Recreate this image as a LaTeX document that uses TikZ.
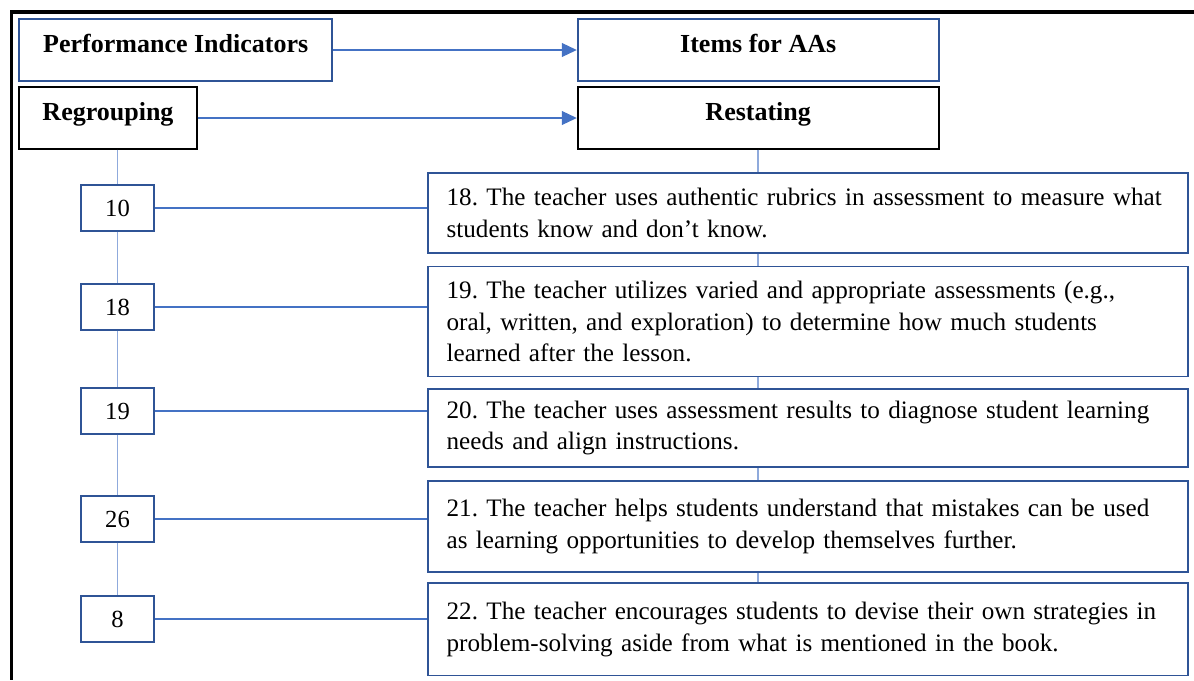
\documentclass[tikz,border=0pt]{standalone}
\usepackage{fontspec}
\setmainfont{Liberation Serif}
\usetikzlibrary{arrows.meta,calc}
\definecolor{boxblue}{RGB}{47,84,150}
\definecolor{linkblue}{RGB}{68,114,196}
\definecolor{trunkblue}{RGB}{143,170,220}
\frenchspacing

\begin{document}
\begin{tikzpicture}
[x=0.02cm,y=-0.02cm,>={Triangle[length=0.3cm,width=0.28cm]},
hdrbox/.style = {draw, line width=1.1pt, fill=white, minimum height=1.228cm, font=\fontsize{14.8}{17}\selectfont\bfseries, text height=0.7em, text depth=0.44em},
numbox/.style = {draw=boxblue, line width=1.1pt, fill=white, minimum width=1.46cm, minimum height=0.91cm, font=\fontsize{14}{17}\selectfont},
itembox/.style = {draw=boxblue, line width=1.1pt, fill=white, minimum width=15.196cm, text width=14.44cm, inner xsep=0.38cm, align=left, font=\fontsize{14.3}{17.9}\selectfont},
link/.style = {draw=linkblue, line width=0.6pt},
trunk/.style = {draw=trunkblue, line width=0.9pt},]
\useasboundingbox (0,0) rectangle (1194,680);
\draw[line width=0.08cm] (1194,12) -- (11.5,12) -- (11.5,680);
% headings
\node (PI) at (175.7,50) [hdrbox, draw=boxblue, minimum width=6.254cm] {Performance Indicators};
\node (items) at (758.2,50) [hdrbox, draw=boxblue, minimum width=7.22cm] {Items for AAs};
\node (regroup) at (108,118) [hdrbox, minimum width=3.548cm] {Regrouping};
\node (restate) at (758.2,118) [hdrbox, minimum width=7.22cm] {Restating};
\draw[link,->] (PI) -- (items);
\draw[link,->] (regroup) -- (restate);
% indicator numbers
\foreach \n/\y in {10/208, 18/307, 19/411, 26/519, 8/619}
  \node (n\n) at (117.5,\y) [numbox] {\n};
% items
\node (t18) at (807.6,212.8) [itembox, minimum height=1.606cm] {18. The teacher uses authentic rubrics in assessment to measure what\\ students know and don’t know.};
\node (t19) at (807.6,321.5) [itembox, minimum height=2.2cm] {19. The teacher utilizes varied and appropriate assessments (e.g.,\\ oral, written, and exploration) to determine how much students\\ learned after the lesson.};
\node (t20) at (807.6,428.1) [itembox, minimum height=1.566cm] {20. The teacher uses assessment results to diagnose student learning\\ needs and align instructions.};
\node (t21) at (807.6,526.5) [itembox, minimum height=1.832cm] {21. The teacher helps students understand that mistakes can be used\\ as learning opportunities to develop themselves further.};
\node (t22) at (807.6,629.4) [itembox, minimum height=1.844cm] {22. The teacher encourages students to devise their own strategies in\\ problem-solving aside from what is mentioned in the book.};
% connectors
\draw[trunk] (n10.north |- regroup.south) -- (n10.north);
\foreach \a/\b in {n10/n18, n18/n19, n19/n26, n26/n8}
  \draw[trunk] (\a.south) -- (\b.north);
\draw[trunk] (restate.south) -- (restate.south |- t18.north);
\foreach \a/\b in {t18/t19, t19/t20, t20/t21, t21/t22}
  \draw[trunk] (\a.south -| restate.south) -- (\b.north -| restate.south);
\foreach \n/\t in {10/18, 18/19, 19/20, 26/21, 8/22}
  \draw[link] (n\n.east) -- (n\n.east -| t\t.west);
\end{tikzpicture}
\end{document}
